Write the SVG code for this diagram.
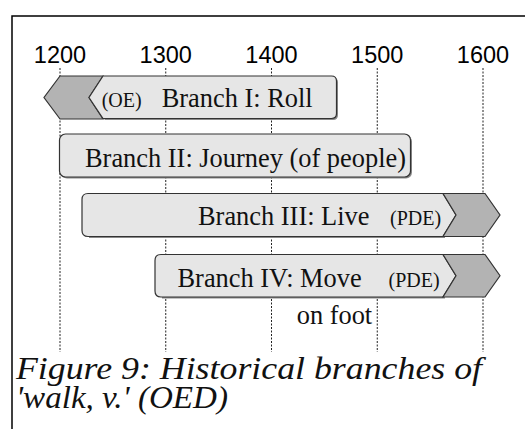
<svg xmlns="http://www.w3.org/2000/svg" width="525" height="429" viewBox="0 0 525 429">
<style>
.yr{font-family:"Liberation Sans",Arial,sans-serif;font-size:23.5px;fill:#000;text-anchor:middle}
.lbl{font-family:"Liberation Serif","Times New Roman",serif;font-size:26.4px;fill:#111}
.sm{font-family:"Liberation Serif","Times New Roman",serif;font-size:20px;fill:#111}
.cap{font-family:"Liberation Serif","Times New Roman",serif;font-style:italic;font-size:31px;fill:#111}
.grid{stroke:#222;stroke-width:1;stroke-dasharray:2,1.5;fill:none}
.light{fill:#e6e6e6;stroke:#333;stroke-width:1.2}
.dark{fill:#b3b3b3;stroke:#333;stroke-width:1.2}
.shadow{fill:#8a8a8a}
</style>
<rect width="525" height="429" fill="#fff"/>
<path d="M12,429 V16 H525" fill="none" stroke="#000" stroke-width="1.5"/>
<g id="axis">
<text class="yr" x="60" y="63">1200</text>
<text class="yr" x="165.75" y="63">1300</text>
<text class="yr" x="271.5" y="63">1400</text>
<text class="yr" x="377.25" y="63">1500</text>
<text class="yr" x="483" y="63">1600</text>
</g>
<g id="connectors">
<line class="grid" x1="60" y1="68" x2="60" y2="352"/>
<line class="grid" x1="165.75" y1="68" x2="165.75" y2="352"/>
<line class="grid" x1="271.5" y1="68" x2="271.5" y2="352"/>
<line class="grid" x1="377.25" y1="68" x2="377.25" y2="352"/>
<line class="grid" x1="483" y1="68" x2="483" y2="352"/>
</g>
<g id="branch1">
<path class="shadow" d="M104.5,77.5 H333 Q338,77.5 338,82.5 V115 Q338,120 333,120 H104.5 Z"/>
<path class="dark" d="M60,76 H103 L89,97.5 L103,119 H60 L44,97.5 Z"/>
<path class="light" d="M103,76 H331.5 Q336.5,76 336.5,81 V113.5 Q336.5,118.5 331.5,118.5 H103 L89,97.5 Z"/>
<text class="sm" x="101.7" y="106.7">(OE)</text>
<text class="lbl" x="161.7" y="106.7">Branch I: Roll</text>
</g>
<g id="branch2">
<rect class="shadow" x="61" y="135.5" width="351" height="43" rx="6"/>
<rect class="light" x="59.5" y="134" width="351" height="43" rx="6"/>
<text class="lbl" x="85" y="166.7">Branch II: Journey (of people)</text>
</g>
<g id="branch3">
<path class="shadow" d="M89,195 H445 V238 H89 Z"/>
<path class="light" d="M88,193.5 H443 L456,215 L443,236.5 H88 Q82,236.5 82,230.5 V199.5 Q82,193.5 88,193.5 Z"/>
<path class="dark" d="M443,193.5 H485 L500,215 L485,236.5 H443 L456,215 Z"/>
<text class="lbl" x="198" y="225">Branch III: Live</text>
<text class="sm" x="390" y="225">(PDE)</text>
</g>
<g id="branch4">
<path class="shadow" d="M162,256 H445 V298.5 H162 Z"/>
<path class="light" d="M161,254.5 H443 L456,275.75 L443,297 H161 Q155,297 155,291 V260.5 Q155,254.5 161,254.5 Z"/>
<path class="dark" d="M443,254.5 H485 L500,275.75 L485,297 H443 L456,275.75 Z"/>
<text class="lbl" x="177.5" y="286.5">Branch IV: Move</text>
<text class="sm" x="388.5" y="286.5">(PDE)</text>
</g>
<g id="note">
<text class="lbl" x="296.7" y="324">on foot</text>
</g>
<g id="caption">
<text class="cap" x="16" y="379" textLength="466" lengthAdjust="spacingAndGlyphs">Figure 9: Historical branches of</text>
<text class="cap" x="16" y="408" textLength="212" lengthAdjust="spacingAndGlyphs">'walk, v.' (OED)</text>
</g>
</svg>
